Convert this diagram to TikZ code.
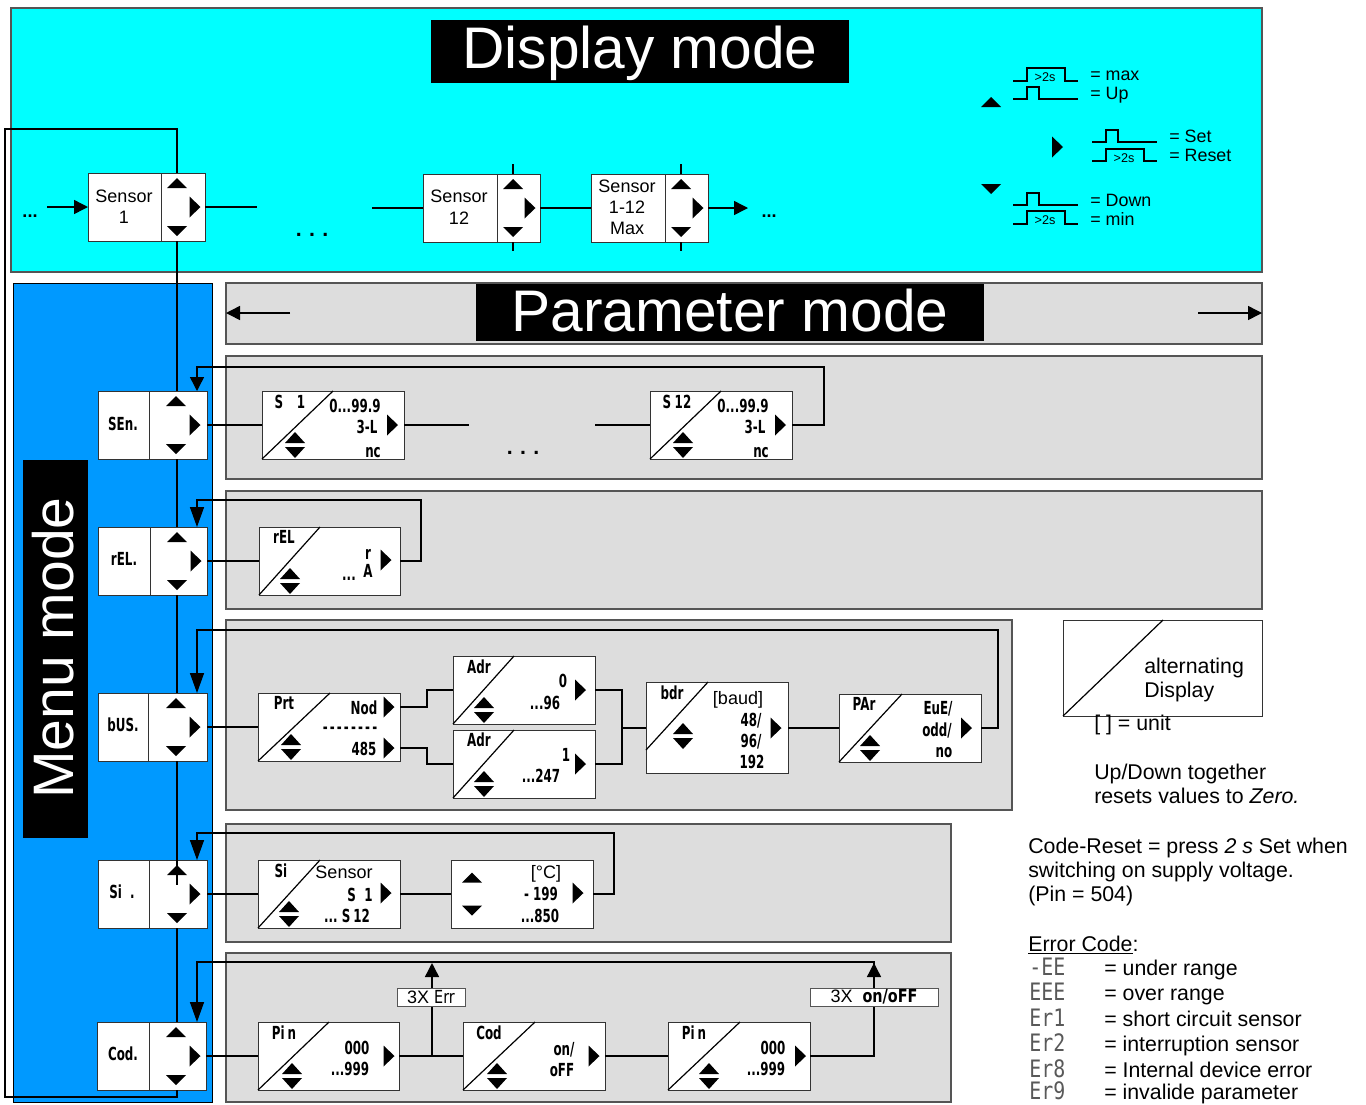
\documentclass[tikz,border=0pt]{standalone}
\usepackage{fontspec}
\setmainfont{Liberation Sans}
\newfontfamily\lcdfont[FakeStretch=0.66]{DejaVu Sans}
\newfontfamily\lcdthin[FakeStretch=0.8]{DejaVu Sans}
\newfontfamily\errfont[FakeStretch=0.83]{DejaVu Sans Mono}
\usetikzlibrary{arrows.meta}
\newcounter{lb}
\definecolor{cy}{HTML}{00FFFF}
\definecolor{bl}{HTML}{0099FF}
\definecolor{pn}{HTML}{DDDDDD}
\definecolor{edge}{HTML}{555555}
\tikzset{
  x=.75pt,y=-.75pt,
  panel/.style={fill=pn,draw=edge,line width=.8pt},
  conn/.style={line width=1.1pt,draw=black},
  arr/.style={conn,-{Triangle[length=10.5pt,width=10.5pt]}},
  larr/.style={conn,-{Triangle[length=15pt,width=10.5pt]}},
  boxn/.style={draw=black!80,fill=white,line width=.7pt,inner sep=0pt,outer sep=0pt,anchor=north west},
  title/.style={fill=black,inner sep=0pt,outer sep=0pt},
  titlet/.style={text=white,inner sep=0pt,font=\fontsize{44}{44}\selectfont},
  lcdt/.style={font=\lcdfont\bfseries\fontsize{13.5}{14}\selectfont,inner sep=0pt,anchor=base},
  tu/.pic={\fill (-10,5)--(0,-5)--(10,5)--cycle;},
  td/.pic={\fill (-10,-5)--(0,5)--(10,-5)--cycle;},
  tr/.pic={\fill (-5.5,-10.5)--(5.5,0)--(-5.5,10.5)--cycle;},
  dt/.pic={\fill (-10,-2)--(0,-13)--(10,-2)--cycle;\fill (-10,2)--(0,13)--(10,2)--cycle;},
}
\newcommand\bx[5]{\node[boxn,minimum width=#4*.75pt,minimum height=#5*.75pt] (#1) at (#2,#3) {};}
\newcommand\keybx[8]{\bx{#1}{#2}{#3}{#4}{#5}
  \draw[line width=.7pt,black!80] (#6,#3) -- (#6,#3+#5);
  \pic at (#7,#3+10) {tu}; \pic at (#7,#3+#5-10) {td}; \pic at (#8,#3+#5/2) {tr};}
\newcommand\dbx[7]{\bx{#1}{#2}{#3}{#4}{#5}
  \draw[line width=.9pt] (#2,#3+68) -- (#6,#3);
  \pic at (#7,#3+54) {dt};}
\newcommand\lcd[3][lcdt]{\stepcounter{lb}\node[#1,yshift=-5.25pt] (lb\arabic{lb}) at (#2) {#3};}
\newcommand\txt[4][base west]{\stepcounter{lb}\node[inner sep=0pt,anchor=#1,font=\fontsize{#3}{#3}\selectfont] (lb\arabic{lb}) at (#2) {#4};}
\begin{document}
\begin{tikzpicture}
\useasboundingbox (0,0) rectangle (1366,1104);
% ---------- backgrounds
\fill[cy,draw=edge,line width=.8pt] (11,8) rectangle (1262,272);
\fill[bl,draw=black,line width=.75pt] (13,283) rectangle (212,1102);
\draw[panel] (226,283) rectangle (1262,344);
\draw[panel] (226,356) rectangle (1262,479);
\draw[panel] (226,491) rectangle (1262,609);
\draw[panel] (226,620) rectangle (1012,810);
\draw[panel] (226,824) rectangle (951,942);
\draw[panel] (226,953) rectangle (951,1102);
% ---------- titles
\node[title,minimum width=418*.75pt,minimum height=63*.75pt] (tdisp) at (640,51.5) {};
\node[titlet] (tdispt) at (640,53.5) {Display mode};
\node[title,minimum width=508*.75pt,minimum height=57*.75pt] (tpar) at (730,312.5) {};
\node[titlet] (tpart) at (730,310.5) {Parameter mode};
\node[title,minimum width=65*.75pt,minimum height=378*.75pt] (tmenu) at (55.5,649) {};
\node[titlet,rotate=90,font=\fontsize{42.8}{44}\selectfont] (tmenut) at (53.5,648) {Menu mode};
% ---------- named anchors
\coordinate (pl1) at (226,313); \coordinate (pl0) at (290,313);
\coordinate (pr0) at (1198,313); \coordinate (pr1) at (1262,313);
\draw[arr] (pl0) -- (pl1);
\draw[arr] (pr0) -- (pr1);
% ---------- boxes
\keybx{sa}{88}{173}{117}{68}{161}{177}{195}
\keybx{sb}{423}{174}{117}{68}{497}{513}{530}
\keybx{sc}{591}{174}{117}{68}{665}{681}{698}
\keybx{msen}{98}{391}{109}{68}{149}{176}{195}
\keybx{mrel}{98}{527}{109}{68}{150}{177}{196}
\keybx{mbus}{98}{693}{109}{68}{148}{176}{195}
\keybx{msi}{98}{860}{109}{68}{149}{177}{195}
\keybx{mcod}{97}{1022}{109}{68}{149}{176}{195}
\dbx{ps1}{262}{391}{142}{68}{333}{295}
\dbx{ps12}{650}{391}{142}{68}{721}{683}
\dbx{prel}{259}{527}{141}{68}{320}{290}
\dbx{pprt}{258}{693}{142}{68}{330}{291}
\dbx{padra}{453}{656}{142}{68}{514}{484}
\dbx{padrb}{453}{730}{142}{68}{514}{484}
\bx{pbdr}{646}{682.5}{142}{91}
\draw[line width=.9pt] (646,750) -- (708,682);
\pic at (683,736) {dt};
\dbx{ppar}{839}{694}{142}{68}{902}{870}
\dbx{psi}{258}{860}{142}{68}{320}{289}
\bx{pc}{451}{860}{142}{68}
\pic at (472,877.5) {tu}; \pic at (472,910.5) {td};
\dbx{ppa}{258}{1022}{141}{68}{329}{292}
\dbx{pcod}{463}{1022}{142}{68}{535}{497}
\dbx{ppb}{668}{1022}{142}{68}{740}{709}
% right triangles in the display boxes
\pic at (392.5,425) {tr}; \pic at (780.5,425) {tr}; \pic at (386,560) {tr};
\pic at (389,707) {tr}; \pic at (389,748) {tr};
\pic at (580.5,690) {tr}; \pic at (580.5,764) {tr};
\pic at (776,728) {tr}; \pic at (966.5,728) {tr};
\pic at (386,893) {tr}; \pic at (578,893) {tr};
\pic at (389,1056) {tr}; \pic at (594,1056) {tr}; \pic at (800.5,1056) {tr};
% ---------- connectors: display mode
\coordinate (in0) at (47,207); \coordinate (sae) at (257,207); \coordinate (sbw) at (372,208);
\coordinate (out) at (748,208);
\draw[arr] (in0) -- (sa.west);
\draw[conn] (sa.east) -- (sae);
\draw[conn] (sbw) -- (sb.west);
\draw[conn] (sb.east) -- (sc.west);
\draw[arr] (sc.east) -- (out);
\foreach \xx in {513,681} { \draw[conn,line width=.9pt] (\xx,164) -- (\xx,174) (\xx,242) -- (\xx,251); }
% ---------- connectors: the main loop
\coordinate (sat) at (177,173); \coordinate (sab) at (177,241);
\coordinate (lt) at (5,129); \coordinate (lb) at (5,1097); \coordinate (cb) at (177,1090);
\draw[conn] (sat) -- (177,129) -- (lt) -- (lb) -- (177,1097) -- (cb);
\draw[conn] (sab) -- (177,391);
\draw[conn] (177,459) -- (177,527);
\draw[conn] (177,595) -- (177,693);
\draw[conn] (177,761) -- (177,885);
\draw[conn] (177,928) -- (177,1022);
% ---------- connectors: parameter rows
\coordinate (n1) at (469,425); \coordinate (n2) at (595,425);
\draw[conn] (msen.east) -- (ps1.west);
\draw[conn] (ps1.east) -- (n1);
\draw[conn] (n2) -- (ps12.west);
\draw[arr] (ps12.east) -- (824,425) -- (824,367) -- (197,367) -- (197,391);
\draw[conn] (mrel.east) -- (prel.west);
\draw[larr] (prel.east) -- (421,561) -- (421,500) -- (197,500) -- (197,527);
\draw[conn] (mbus.east) -- (pprt.west);
\draw[conn] (400,707) -- (427,707) -- (427,690) -- (padra.west);
\draw[conn] (400,748) -- (427,748) -- (427,764) -- (padrb.west);
\draw[conn] (padra.east) -- (622,690) -- (622,764) -- (padrb.east);
\draw[conn] (622,728) -- (pbdr.west);
\draw[conn] (pbdr.east) -- (ppar.west);
\draw[larr] (ppar.east) -- (998,728) -- (998,630) -- (197,630) -- (197,693);
\draw[conn] (msi.east) -- (psi.west);
\draw[conn] (psi.east) -- (pc.west);
\draw[larr] (pc.east) -- (614,894) -- (614,833) -- (197,833) -- (197,860);
\draw[conn] (mcod.east) -- (ppa.west);
\draw[conn] (ppa.east) -- (pcod.west);
\draw[conn] (pcod.east) -- (ppb.west);
\draw[larr] (ppb.east) -- (874,1056) -- (874,962) -- (197,962) -- (197,1022);
\draw[arr] (432,1056) -- (432,963);
\draw[arr] (874,1000) -- (874,963);
\node[boxn,minimum width=68*.75pt,minimum height=18*.75pt,draw=edge] (errl) at (397,988) {};
\node[boxn,minimum width=128*.75pt,minimum height=18*.75pt,draw=edge] (onl) at (810,988) {};
\node[inner sep=0pt,font=\fontsize{13.5}{14}\selectfont] (errt) at (431,997) {3X {\lcdthin Err}};
\node[inner sep=0pt,font=\fontsize{13.5}{14}\selectfont] (ont) at (874,997) {3X\ \ {\lcdthin\bfseries on/oFF}};
% ---------- sensor texts
\txt[base]{124,202}{13.5}{Sensor}
\txt[base]{124,223}{13.5}{1}
\txt[base]{459,202}{13.5}{Sensor}
\txt[base]{459,224}{13.5}{12}
\txt[base]{627,192}{13.5}{Sensor}
\txt[base]{627,213}{13.5}{1-12}
\txt[base]{627,234}{13.5}{Max}
\txt[base]{30,217}{13.5}{\textbf{...}}
\txt[base]{769,217}{13.5}{\textbf{...}}
\txt[base]{312,236}{16}{\textbf{.\hspace{5.5pt}.\hspace{5.5pt}.}}
\txt[base]{523,454}{16}{\textbf{.\hspace{5.5pt}.\hspace{5.5pt}.}}
% ---------- menu labels
\lcd{123,423}{SEn.}
\lcd{124,558}{rEL.}
\lcd{123,724}{bUS.}
\lcd{122,891}{Si\ \ .}
\lcd{123,1053}{Cod.}
% ---------- parameter labels
\lcd{279,401}{S}\lcd{301,401}{1}
\lcd{355,405}{0...99.9}
\lcd{367,426}{3-L}\lcd{373,450}{nc}
\lcd{667,401}{S}\lcd{683,401}{12}
\lcd{743,405}{0...99.9}
\lcd{755,426}{3-L}\lcd{761,450}{nc}
\lcd{284,536}{rEL}
\lcd{368,552}{r}\lcd{368,570}{A}\lcd{349,573}{...}
\lcd{284,702}{Prt}\lcd{364,707}{Nod}\lcd{364,748}{485}
\lcd{350,726}{-\hspace{1.6pt}-\hspace{1.6pt}-\hspace{1.6pt}-\hspace{1.6pt}-\hspace{1.6pt}-\hspace{1.6pt}-\hspace{1.6pt}-}
\lcd{479,666}{Adr}\lcd{563,680}{0}\lcd{545,702}{...96}
\lcd{479,739}{Adr}\lcd{566,754}{1}\lcd{541,775}{...247}
\lcd{672,692}{bdr}
\txt[base]{738,704}{13.5}{[baud]}
\lcd{751,719}{48/}\lcd{751,740}{96/}\lcd{752,761}{192}
\lcd{864,703}{PAr}\lcd{938,707}{EuE/}\lcd{937,729}{odd/}\lcd{944,750}{no}
\lcd{281,870}{Si}
\txt[base]{344,878}{13.5}{Sensor}
\lcd{360,894}{S\ \ 1}\lcd{347,915}{...\ S\,12}
\txt[base]{546,878}{13.5}{[°C]}
\lcd{541,893}{-\ 199}\lcd{540,915}{...850}
\lcd{284,1032}{Pi\,n}\lcd{357,1047}{000}\lcd{350,1068}{...999}
\lcd{489,1032}{Cod}\lcd{564,1048}{on/}\lcd{562,1069}{oFF}
\lcd{694,1032}{Pi\,n}\lcd{773,1047}{000}\lcd{766,1068}{...999}
% ---------- key
\pic at (991,102) {tu}; \pic at (1057.5,147) {tr}; \pic at (991,189) {td};
\coordinate (w1) at (1013,81); \draw[line width=.9pt] (w1) -- (1027,81) -- (1027,68) -- (1065,68) -- (1065,81) -- (1078,81);
\coordinate (w2) at (1013,99); \draw[line width=.9pt] (w2) -- (1027,99) -- (1027,87) -- (1039,87) -- (1039,99) -- (1078,99);
\coordinate (w3) at (1092,142); \draw[line width=.9pt] (w3) -- (1106,142) -- (1106,130) -- (1118,130) -- (1118,142) -- (1157,142);
\coordinate (w4) at (1092,161); \draw[line width=.9pt] (w4) -- (1106,161) -- (1106,149) -- (1144,149) -- (1144,161) -- (1157,161);
\coordinate (w5) at (1013,205); \draw[line width=.9pt] (w5) -- (1027,205) -- (1027,193) -- (1039,193) -- (1039,205) -- (1078,205);
\coordinate (w6) at (1013,224); \draw[line width=.9pt] (w6) -- (1027,224) -- (1027,211) -- (1065,211) -- (1065,224) -- (1078,224);
\txt[base]{1045,81}{9.5}{>2s}
\txt[base]{1124,162}{9.5}{>2s}
\txt[base]{1045,224}{9.5}{>2s}
\txt{1090,80}{13.4}{= max}
\txt{1090,99}{13.4}{= Up}
\txt{1169,142}{13.4}{= Set}
\txt{1169,161}{13.4}{= Reset}
\txt{1090,206}{13.4}{= Down}
\txt{1090,225}{13.4}{= min}
% ---------- notes
\bx{alt}{1063}{620}{199}{96}
\draw[line width=.9pt] (1063,716) -- (1163,620);
\txt{1144,673}{16}{alternating}
\txt{1144,697}{16}{Display}
\txt{1094,730}{16}{[ ] = unit}
\txt{1094,779}{16}{Up/Down together}
\txt{1094,803}{16}{resets values to \textit{Zero.}}
\txt{1028,853}{16}{Code-Reset = press \textit{2 s} Set when}
\txt{1028,877}{16}{switching on supply voltage.}
\txt{1028,901}{16}{(Pin = 504)}
\txt{1028,951}{16}{\underline{Error Code}:}
\foreach \yy/\cc/\tt in {975/-EE/under range,1000/EEE/over range,1026/Er1/short circuit sensor,1051/Er2/interruption sensor,1077/Er8/Internal device error,1099.5/Er9/invalide parameter}{
  \stepcounter{lb}\node[inner sep=0pt,anchor=base west,text=black!65,font=\errfont\fontsize{18}{18}\selectfont] (lb\arabic{lb}) at (1029,\yy) {\cc};
  \txt{1104,\yy}{16}{= \tt}
}
\end{tikzpicture}
\end{document}
